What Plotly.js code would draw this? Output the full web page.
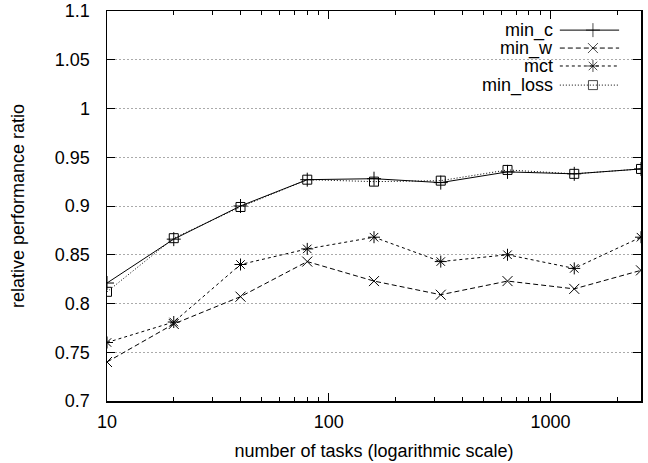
<!DOCTYPE html>
<html>
<head>
<meta charset="utf-8">
<script src="https://cdn.plot.ly/plotly-3.0.1.min.js"></script>
<style>html,body{margin:0;padding:0;background:#fff}#chart{width:648px;height:463px}</style>
</head>
<body>
<div id="chart"></div>
<script>
// Data
var tasks = [10, 20, 40, 80, 160, 320, 640, 1280, 2560];
var minC    = [0.821, 0.866, 0.900, 0.927, 0.928, 0.924, 0.935, 0.933, 0.938];
var minW    = [0.740, 0.779, 0.807, 0.843, 0.823, 0.809, 0.823, 0.815, 0.834];
var mct     = [0.760, 0.781, 0.840, 0.856, 0.868, 0.843, 0.850, 0.836, 0.868];
var minLoss = [0.812, 0.867, 0.899, 0.927, 0.925, 0.926, 0.937, 0.933, 0.938];
var seriesNames = ['min_c', 'min_w', 'mct', 'min_loss'];
var xTickVals = [10, 100, 1000];
var xTickText = ['10', '100', '1000'];
var yTickVals = [0.7, 0.75, 0.8, 0.85, 0.9, 0.95, 1, 1.05, 1.1];
var yTickText = ['0.7', '0.75', '0.8', '0.85', '0.9', '0.95', '1', '1.05', '1.1'];

var styles = [
  {dash: 'solid', symbol: 'cross-thin-open', size: 10},
  {dash: '5px,3px', symbol: 'x-thin-open', size: 10},
  {dash: '3px,3px', symbol: 'asterisk-open', size: 10},
  {dash: '1px,2px', symbol: 'square-open', size: 9}
];
var values = [minC, minW, mct, minLoss];
var FONT = 'Liberation Sans, Arial, sans-serif';
var FS = 18;

var traces = [];
values.forEach(function (v, i) {
  traces.push({
    x: tasks, y: v, type: 'scatter', mode: 'lines+markers', name: seriesNames[i],
    line: {color: '#000', width: 1, dash: styles[i].dash},
    marker: {symbol: styles[i].symbol, size: styles[i].size, color: '#000', line: {color: '#000', width: 1}},
    showlegend: false, hoverinfo: 'skip'
  });
});

// Custom gnuplot-style legend (text right-aligned, sample on the right)
var legRowY = [0.951, 0.905, 0.859, 0.810];
var legX0 = 0.848, legX1 = 0.959, legXm = 0.910, legTextX = 0.839;
var annotations = [];
seriesNames.forEach(function (n, i) {
  traces.push({
    x: [legX0, legXm, legX1], y: [legRowY[i], legRowY[i], legRowY[i]],
    xaxis: 'x2', yaxis: 'y2', type: 'scatter', mode: 'lines+markers',
    line: {color: '#000', width: 1, dash: styles[i].dash},
    marker: {symbol: styles[i].symbol, size: [0, styles[i].size, 0], color: '#000', line: {color: '#000', width: 1}},
    showlegend: false, hoverinfo: 'skip'
  });
  annotations.push({
    xref: 'paper', yref: 'paper', x: legTextX, y: legRowY[i], xanchor: 'right', yanchor: 'middle',
    text: n, showarrow: false, font: {family: FONT, size: FS, color: '#000'}
  });
});

var layout = {
  width: 648, height: 463,
  margin: {l: 107, r: 7, t: 11, b: 62},
  paper_bgcolor: '#fff', plot_bgcolor: '#fff',
  font: {family: FONT, size: FS, color: '#000'},
  showlegend: false,
  xaxis: {
    type: 'log', range: [1, Math.log10(2560)],
    tickvals: xTickVals, ticktext: xTickText,
    ticks: 'inside', ticklen: 8, tickwidth: 1, tickcolor: '#000',
    minor: {tickvals: [20,30,40,50,60,70,80,90,200,300,400,500,600,700,800,900,2000], ticks: 'inside', ticklen: 4, tickcolor: '#000', showgrid: false},
    showline: true, linecolor: '#000', linewidth: 1.5, mirror: 'allticks',
    showgrid: false, zeroline: false,
    ticklabelstandoff: 4,
    title: {text: 'number of tasks (logarithmic scale)', font: {family: FONT, size: FS}, standoff: 13}
  },
  yaxis: {
    range: [0.7, 1.1],
    tickvals: yTickVals, ticktext: yTickText,
    ticks: 'inside', ticklen: 8, tickwidth: 1, tickcolor: '#000',
    showline: true, linecolor: '#000', linewidth: 1.5, mirror: 'allticks',
    showgrid: true, gridcolor: '#aaa', gridwidth: 1, griddash: '2px,2px',
    zeroline: false,
    ticklabelstandoff: 12,
    title: {text: 'relative performance ratio', font: {family: FONT, size: FS}, standoff: 25}
  },
  xaxis2: {overlaying: 'x', range: [0, 1], visible: false, fixedrange: true},
  yaxis2: {overlaying: 'y', range: [0, 1], visible: false, fixedrange: true},
  shapes: [{
    type: 'rect', xref: 'paper', yref: 'paper', x0: 0.67, x1: 0.985, y0: 0.79, y1: 0.995,
    fillcolor: '#fff', line: {width: 0}, layer: 'between'
  }],
  annotations: annotations
};

Plotly.newPlot('chart', traces, layout, {staticPlot: true, displayModeBar: false});
</script>
</body>
</html>
